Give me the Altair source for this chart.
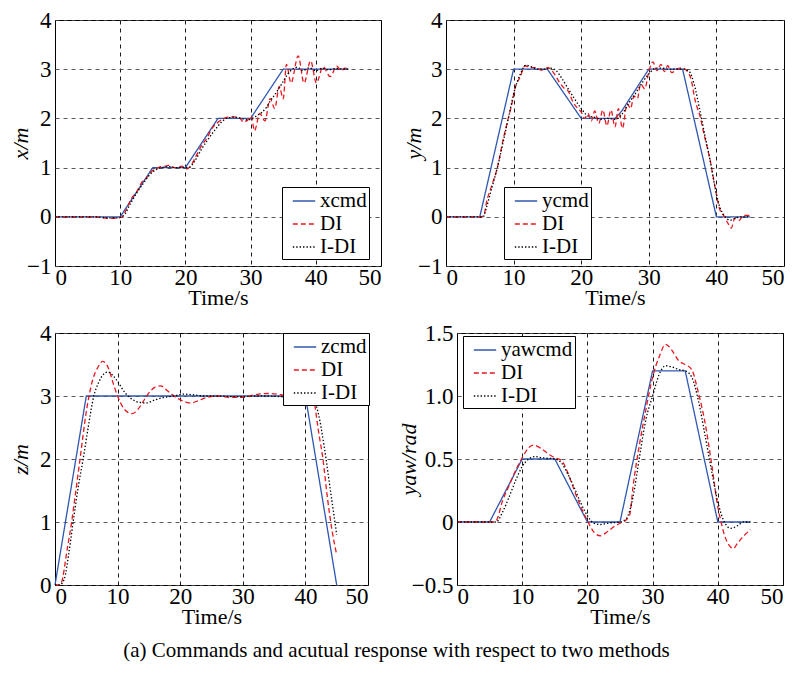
import altair as alt
import pandas as pd

FONT = "Liberation Serif"

# ---------------- data ----------------
x_cmd_t = [0, 10, 15, 20, 25, 30, 35, 45]
x_cmd_v = [0, 0, 1, 1, 2, 2, 3, 3]
x_di_t = [0, 6, 8, 9.5, 10.3, 11, 11.7, 12.5, 13.3, 14, 14.8, 15.5, 16.2, 17, 17.6, 18.2, 18.8, 19.4, 20.2, 20.8,
          21.5, 22.5, 23.3, 24.1, 25.1, 25.9, 27.1, 28.2, 28.9, 29.5, 30.1, 30.6, 31.4, 32.2, 33.0, 33.7, 34.4, 35.0,
          35.5, 36.2, 37.3, 38.2, 39.2, 40.1, 41.1, 42.2, 43.2, 43.9, 44.5, 45]
x_di_v = [0, 0, -0.03, -0.03, 0.0, 0.17, 0.37, 0.5, 0.7, 0.78, 0.92, 0.97, 1.02, 1.03, 1.05, 1.0, 1.0, 1.03, 0.97, 1.03,
          1.2, 1.45, 1.6, 1.8, 1.93, 2.0, 2.03, 2.02, 1.93, 1.96, 2.05, 1.75, 2.1, 1.95, 2.4, 2.2, 2.65, 2.4,
          3.1, 2.72, 3.27, 2.72, 3.17, 2.72, 3.05, 2.85, 3.06, 2.97, 3.02, 3.0]
x_idi_t = [0, 6, 8, 9.5, 10.5, 11.5, 12.5, 13.5, 14.5, 15.5, 16.3, 17.5, 18.5, 19.5, 20.5, 21.5, 22.5, 23.5, 24.5, 25.5,
           26.3, 27.5, 28.5, 29.5, 30.3, 31.0, 31.7, 32.4, 33.0, 33.7, 34.4, 35.0, 35.7, 36.4, 37.2, 38.0, 39.0, 40.0,
           41.0, 42.0, 43.0, 45]
x_idi_v = [0, 0, -0.02, -0.02, 0.02, 0.25, 0.48, 0.67, 0.85, 0.96, 1.0, 1.02, 1.0, 1.0, 1.0, 1.15, 1.38, 1.58, 1.76, 1.92,
           2.0, 2.03, 2.0, 1.97, 2.0, 2.06, 2.12, 2.22, 2.35, 2.48, 2.62, 2.75, 2.9, 3.0, 3.04, 2.97, 3.03, 2.97,
           3.02, 2.99, 3.01, 3.0]

y_cmd_t = [0, 5, 10, 15, 19, 20, 25, 26, 30, 35, 40, 45]
y_cmd_v = [0, 0, 3, 3, 2.2, 2, 2, 2.15, 3, 3, 0, 0]
y_di_t = [0, 5.1, 5.6, 6.0, 6.8, 7.6, 8.5, 9.3, 9.8, 10.2, 11.0, 11.7, 12.4, 13.4, 14.1, 15.1, 15.9, 16.8, 17.6, 18.0,
          18.8, 19.5, 20.0, 20.5, 21.0, 21.5, 22.0, 22.6, 23.2, 23.8, 24.4, 25.0, 25.5, 26.1, 26.8, 27.3, 27.8, 28.3,
          28.8, 29.4, 30.0, 30.6, 31.2, 31.8, 32.3, 32.8, 33.4, 34.1, 34.9, 35.6, 36.3, 36.8, 37.6, 38.3, 39.0, 39.8,
          40.5, 41.2, 41.7, 42.2, 42.7, 43.4, 44.0, 44.9]
y_di_v = [0, 0, 0.03, 0.3, 0.65, 1.0, 1.6, 2.05, 2.33, 2.6, 2.85, 3.07, 3.03, 3.03, 2.98, 3.03, 2.93, 2.73, 2.6, 2.57,
          2.33, 2.2, 2.13, 2.0, 2.1, 1.95, 2.15, 1.9, 2.17, 1.85, 2.17, 1.83, 2.2, 1.8, 2.3, 2.2, 2.45, 2.4,
          2.7, 2.6, 2.95, 3.15, 2.97, 3.1, 2.95, 3.07, 2.93, 3.0, 3.03, 2.97, 2.77, 2.4, 2.03, 1.6, 1.2, 0.6,
          0.15, 0.0, -0.13, -0.23, -0.03, -0.07, 0.03, 0.03]
y_idi_t = [0, 5.5, 6.0, 6.8, 7.6, 8.5, 9.3, 10.2, 11.0, 11.8, 12.6, 13.5, 14.5, 15.5, 16.3, 17.2, 18.0, 19.0, 20.0, 21.0,
           22, 23, 24, 25, 26, 27, 28, 29, 30, 31, 32, 33, 34, 35, 36, 36.7, 37.5, 38.3, 39.0, 39.8,
           40.5, 41.2, 42.0, 42.8, 43.5, 45]
y_idi_v = [0, 0, 0.2, 0.6, 1.0, 1.55, 2.05, 2.6, 2.9, 3.08, 3.05, 3.0, 3.0, 3.02, 2.97, 2.8, 2.62, 2.4, 2.2, 2.05,
           2.02, 1.98, 2.0, 1.98, 2.08, 2.3, 2.5, 2.72, 2.9, 3.02, 3.02, 3.0, 3.0, 3.0, 2.95, 2.7, 2.2, 1.65, 1.2, 0.6,
           0.2, 0.02, -0.07, -0.03, 0.0, 0.0]

z_cmd_t = [0, 5, 40, 45]
z_cmd_v = [0, 3, 3, 0]
z_di_t = [0, 0.7, 1, 2, 2.66, 3, 4, 5, 6, 7, 7.6, 8.5, 9.3, 10, 11, 12.3, 13.2, 14, 15, 16, 16.9, 18, 19, 20, 21, 21.7,
          23, 24, 26, 28, 30, 32, 34, 36, 38, 40, 41, 41.5, 42, 42.8, 43.5, 44.2, 45]
z_di_v = [0, 0, 0.03, 0.6, 1.0, 1.25, 2.0, 2.75, 3.25, 3.48, 3.55, 3.45, 3.2, 3.0, 2.8, 2.72, 2.78, 2.9, 3.05, 3.14,
          3.16, 3.08, 3.0, 2.94, 2.9, 2.89, 2.93, 2.97, 3.0, 2.98, 2.98, 3.02, 3.04, 3.02, 2.98, 2.97, 2.97, 2.85,
          2.5, 2.0, 1.4, 0.9, 0.48]
z_idi_t = [0, 0.7, 1.5, 2.2, 2.9, 3.7, 4.5, 5.3, 6.2, 7.0, 7.8, 8.5, 9.3, 10.2, 11.2, 12.3, 13.4, 14.6, 16, 17.5,
           19, 20.5, 22, 24, 26, 28, 30, 32, 34, 36, 38, 40, 41, 42, 43, 44, 45]
z_idi_v = [0, 0, 0.1, 0.5, 1.0, 1.55, 2.0, 2.5, 3.0, 3.22, 3.35, 3.38, 3.32, 3.2, 3.05, 2.95, 2.9, 2.89, 2.94, 2.98,
           3.0, 3.03, 3.02, 3.0, 3.0, 2.99, 2.99, 3.0, 3.0, 2.99, 2.98, 2.97, 2.97, 2.75, 2.2, 1.5, 0.8]

yaw_cmd_t = [0, 5, 10, 15, 20, 25, 30, 35, 40, 45]
yaw_cmd_v = [0, 0, 0.5, 0.5, 0, 0, 1.2, 1.2, 0, 0]
yaw_di_t = [0, 5.5, 6, 7, 8, 9, 10, 11, 11.7, 13, 14, 15, 16, 17, 18, 19, 20, 21, 22, 23, 24, 25, 26, 26.5, 27,
            28, 29, 30, 31, 32, 33, 34, 35, 36, 37, 38, 39, 40, 40.5, 41, 42, 42.4, 43, 44, 45]
yaw_di_v = [0, 0, 0.01, 0.17, 0.29, 0.41, 0.51, 0.59, 0.61, 0.58, 0.54, 0.51, 0.49, 0.39, 0.25, 0.12, 0.01, -0.08,
            -0.11, -0.08, -0.04, -0.01, 0.02, 0.06, 0.28, 0.62, 0.9, 1.15, 1.31, 1.41, 1.36, 1.28, 1.25, 1.21, 1.03,
            0.8, 0.48, 0.12, 0.0, -0.1, -0.2, -0.21, -0.17, -0.11, -0.06]
yaw_idi_t = [0, 6, 7, 8, 9, 10, 11, 12, 13, 15, 16, 17, 18, 19, 20, 21, 22, 23, 25, 26, 27, 28, 29, 30, 31, 32, 33,
             34, 35, 36, 37, 38, 39, 40, 41, 42, 43, 44, 45]
yaw_idi_v = [0, 0, 0.08, 0.2, 0.33, 0.44, 0.5, 0.52, 0.51, 0.5, 0.47, 0.38, 0.27, 0.15, 0.05, -0.01, -0.02, -0.01,
             0.0, 0.03, 0.2, 0.52, 0.82, 1.0, 1.17, 1.24, 1.23, 1.21, 1.2, 1.15, 0.97, 0.7, 0.42, 0.16, 0.0, -0.05,
             -0.03, 0.0, 0.0]

x_ticks = [0, 10, 20, 30, 40, 50]
caption = "(a) Commands and acutual response with respect to two methods"

COLORS = ["#2f57b0", "#e8161e", "#000000"]
DASHES = [[1, 0], [5, 3], [1.4, 2]]
FS = 23


def panel(cmd_t, cmd_v, di_t, di_v, idi_t, idi_v, names, ytitle, ydom, yticks,
          w, h, legx, legy, title_x, label_expr=None):
    rows = []
    for t, v in zip(cmd_t, cmd_v):
        rows.append({"t": t, "v": v, "s": names[0], "k": "cmd"})
    for t, v in zip(di_t, di_v):
        rows.append({"t": t, "v": v, "s": names[1], "k": "resp"})
    for t, v in zip(idi_t, idi_v):
        rows.append({"t": t, "v": v, "s": names[2], "k": "resp"})
    df = pd.DataFrame(rows)

    leg = alt.Legend(
        title=None, orient="none", legendX=legx, legendY=legy,
        symbolType="stroke", symbolSize=500, symbolStrokeWidth=1.3,
        labelFont=FONT, labelFontSize=21, labelColor="black",
        strokeColor="black", fillColor="white", padding=2,
        rowPadding=1, labelOffset=4, symbolOffset=8, labelLimit=200,
    )
    axis_kw = dict(values=yticks, title=ytitle, titleFontStyle="italic",
                   gridColor="#444444", titleX=title_x, titleBaseline="alphabetic",
                   titleAngle=270, titleAlign="center")
    if label_expr:
        axis_kw["labelExpr"] = label_expr
    enc = dict(
        x=alt.X("t:Q", scale=alt.Scale(domain=[0, 50], nice=False),
                axis=alt.Axis(values=x_ticks, title="Time/s")),
        y=alt.Y("v:Q", scale=alt.Scale(domain=ydom, nice=False, zero=False), axis=alt.Axis(**axis_kw)),
        color=alt.Color("s:N", scale=alt.Scale(domain=names, range=COLORS), legend=leg),
        strokeDash=alt.StrokeDash("s:N", scale=alt.Scale(domain=names, range=DASHES), legend=leg),
    )
    base = alt.Chart(df)
    cmd = base.transform_filter(alt.datum.k == "cmd").mark_line(
        strokeWidth=1.3, interpolate="linear").encode(**enc)
    resp = base.transform_filter(alt.datum.k == "resp").mark_line(
        strokeWidth=1.3, interpolate="monotone").encode(**enc)
    return alt.layer(cmd, resp).properties(width=w, height=h)


p1 = panel(x_cmd_t, x_cmd_v, x_di_t, x_di_v, x_idi_t, x_idi_v, ["xcmd", "DI", "I-DI"],
           "x/m", [-1, 4], [-1, 0, 1, 2, 3, 4], 326, 246, 227, 167, -28)
p2 = panel(y_cmd_t, y_cmd_v, y_di_t, y_di_v, y_idi_t, y_idi_v, ["ycmd", "DI", "I-DI"],
           "y/m", [-1, 4], [-1, 0, 1, 2, 3, 4], 338, 246, 58, 167, -26)
p3 = panel(z_cmd_t, z_cmd_v, z_di_t, z_di_v, z_idi_t, z_idi_v, ["zcmd", "DI", "I-DI"],
           "z/m", [0, 4], [0, 1, 2, 3, 4], 313, 252, 228, 0, -28)
p4 = panel(yaw_cmd_t, yaw_cmd_v, yaw_di_t, yaw_di_v, yaw_idi_t, yaw_idi_v, ["yawcmd", "DI", "I-DI"],
           "yaw/rad", [-0.5, 1.5], [-0.5, 0, 0.5, 1.0, 1.5], 326, 252, 6, 3, -42,
           label_expr="datum.value == 0 ? '0' : format(datum.value, '.1f')")

row1 = alt.hconcat(p1, p2, spacing=65, bounds="flush").resolve_scale(
    color="independent", strokeDash="independent")
row2 = alt.hconcat(p3, p4, spacing=89, bounds="flush").resolve_scale(
    color="independent", strokeDash="independent")

chart = alt.vconcat(row1, row2, spacing=12).resolve_scale(
    color="independent", strokeDash="independent"
).properties(
    title=alt.TitleParams(caption, orient="bottom", anchor="middle", font=FONT,
                          fontSize=21, fontWeight="normal", color="black", offset=12),
    padding={"left": 0, "top": 0, "right": 0, "bottom": 5},
    background="white",
).configure_axis(
    labelFont=FONT, labelFontSize=FS, labelColor="black",
    titleFont=FONT, titleFontSize=22, titleFontWeight="normal", titleColor="black",
    grid=True, gridDash=[4, 4], gridColor="black", gridOpacity=1, gridWidth=0.9,
    domain=False, ticks=False, labelPadding=4,
).configure_axisX(titlePadding=-2, labelPadding=0).configure_view(
    stroke="black", strokeWidth=1
)

chart.save("out.html", embed_options={"renderer": "svg", "actions": False})
